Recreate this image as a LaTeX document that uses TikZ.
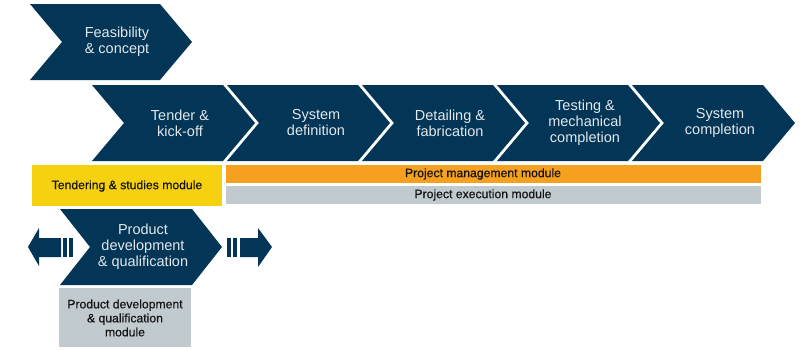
\documentclass[tikz,border=0pt]{standalone}
\usepackage{fontspec}
\setmainfont{Liberation Sans}
\newfontfamily\labelfont[FakeBold=0.5]{Liberation Sans}
\definecolor{navy}{HTML}{023556}
\definecolor{chevtext}{HTML}{E3E8EC}
\definecolor{tenderyellow}{HTML}{F6D10F}
\definecolor{pmorange}{HTML}{F5A01E}
\definecolor{modgrey}{HTML}{C0CACF}
\definecolor{labeltext}{HTML}{141414}

% chevron: #1 left x, #2 top y, #3 bottom y, #4 body length, #5 tip depth
\newcommand\chevronpath[5]{%
  \path[chevfill] (#1,#2) -- ({#1+#4},#2) -- ({#1+#4+#5},{(#2+#3)/2})
    -- ({#1+#4},#3) -- (#1,#3) -- ({#1+#5},{(#2+#3)/2}) -- cycle;}

\tikzset{
  chevfill/.style={fill=navy},
  phase/.style={text=chevtext, align=center, inner sep=0pt,
    font=\fontsize{14.5}{16}\selectfont},
  modlabel/.style={text=labeltext, align=center, inner sep=0pt,
    font=\labelfont\fontsize{12.2}{14}\selectfont},
  arrowpart/.style={fill=navy},
}

\begin{document}
\begin{tikzpicture}[x=1pt,y=-1pt]
\useasboundingbox (0,0) rectangle (805,349);

% top phase
\chevronpath{30}{4}{80}{130}{32}
\node[phase] (feas) at (117,42) {Feasibility\\\& concept};

% main phase row
\chevronpath{92}{85}{161}{131}{32}
\chevronpath{227}{85}{161}{131}{32}
\chevronpath{362}{85}{161}{131}{32}
\chevronpath{497}{85}{161}{131}{32}
\chevronpath{632}{85}{161}{131}{32}
\node[phase] (tender) at (180,123) {Tender \&\\kick-off};
\node[phase] (sysdef) at (316,123) {System\\definition};
\node[phase] (detail) at (450,123) {Detailing \&\\fabrication};
\node[phase] (test)   at (585,123) {Testing \&\\mechanical\\completion};
\node[phase] (syscomp) at (720,123) {System\\completion};

% module bars
\fill[tenderyellow] (32,165) rectangle (222,206);
\node[modlabel] (tendmod) at (127,186) {Tendering \& studies module};
\fill[pmorange] (226,165) rectangle (761,183);
\node[modlabel] (pmmod) at (483,174) {Project management module};
\fill[modgrey] (226,186) rectangle (761,204);
\node[modlabel] (pemod) at (483,195) {Project execution module};

% product development phase
\chevronpath{60}{209}{285}{132}{30}
\node[phase] (proddev) at (143,247) {Product\\development\\\& qualification};

% left arrow with bars
\fill[arrowpart] (28,247) -- (39,228) -- (39,238) -- (61,238) -- (61,257)
  -- (39,257) -- (39,266) -- cycle;
\fill[arrowpart] (63,238) rectangle (67,257);
\fill[arrowpart] (69,238) rectangle (73,257);

% right arrow with bars
\fill[arrowpart] (227,238) rectangle (231,257);
\fill[arrowpart] (233,238) rectangle (237,257);
\fill[arrowpart] (240,238) -- (258,238) -- (258,228) -- (272,247)
  -- (258,267) -- (258,257) -- (240,257) -- cycle;

% product development module
\fill[modgrey] (59,288) rectangle (191,347);
\node[modlabel] (pdmod) at (125,318) {Product development\\\& qualification\\module};
\end{tikzpicture}
\end{document}
